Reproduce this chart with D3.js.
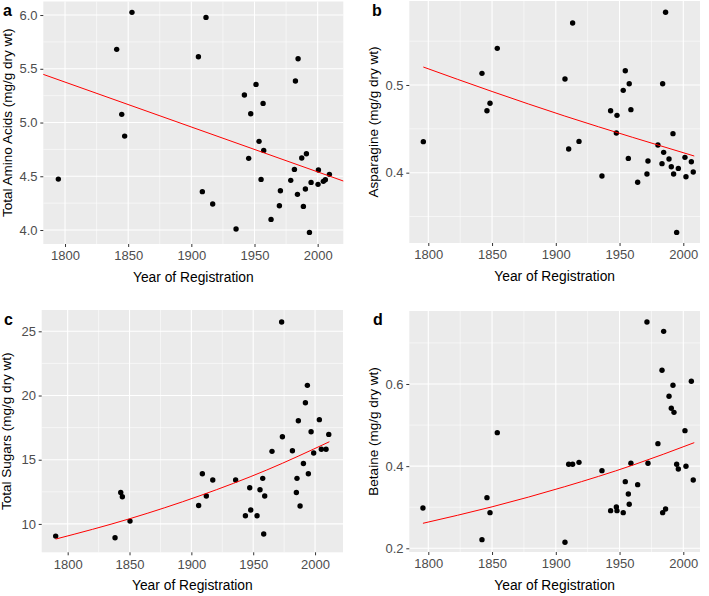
<!DOCTYPE html>
<html>
<head>
<meta charset="utf-8">
<script src="https://cdn.jsdelivr.net/npm/d3@7"></script>
<style>
  body { margin: 0; background: #fff; }
  svg { display: block; font-family: "Liberation Sans", Arial, sans-serif; }
</style>
</head>
<body>
<div id="chart"></div>
<script>
// ---- data ----
var xTicks = [1800, 1850, 1900, 1950, 2000];
var xMinor = [1825, 1875, 1925, 1975];

// a: total amino acids
var yearA = [1794.7, 1853.0, 1840.9, 1844.9, 1847.2, 1905.6, 1911.6, 1908.7, 1916.9, 1935.4,
             1942.0, 1951.2, 1947.0, 1956.8, 1945.4, 1953.6, 1957.3, 1955.2, 1963.1, 1970.5,
             1969.7, 1978.7, 1981.6, 1982.4, 1984.5, 1984.0, 1987.4, 1991.1, 1990.3, 1988.7,
             1993.5, 1994.8, 2000.3, 2000.6, 2004.5, 2006.1, 2009.3];
var aminoA = [4.474, 6.025, 5.681, 5.076, 4.874, 5.612, 5.978, 4.357, 4.242, 4.009,
              5.256, 5.355, 5.082, 5.178, 4.667, 4.825, 4.741, 4.471, 4.099, 4.366,
              4.226, 4.462, 4.564, 5.386, 5.594, 4.332, 4.670, 4.710, 4.381, 4.220,
              3.978, 4.443, 4.425, 4.558, 4.453, 4.468, 4.518];
var trendYearA = [1782.8, 2020.3];
var trendA = [5.448, 4.456];
var yTicksA = [4.0, 4.5, 5.0, 5.5, 6.0];
var yMinorA = [4.25, 4.75, 5.25, 5.75];

// b: asparagine
var yearB = [1796.1, 1842.1, 1846.0, 1848.4, 1854.1, 1907.2, 1913.2, 1910.1, 1918.2, 1936.2,
             1943.0, 1948.0, 1947.5, 1952.9, 1954.5, 1957.6, 1958.9, 1956.9, 1964.2, 1971.5,
             1972.3, 1980.1, 1983.3, 1984.6, 1983.8, 1986.1, 1988.8, 1990.6, 1991.9, 1992.4,
             1994.8, 1996.1, 2001.3, 2002.1, 2006.3, 2007.8];
var asparagineB = [0.4354, 0.5133, 0.4707, 0.4791, 0.5418, 0.5068, 0.5707, 0.4270, 0.4357, 0.3962,
                   0.4707, 0.4654, 0.4452, 0.4939, 0.5163, 0.5015, 0.4719, 0.4163, 0.3890, 0.3985,
                   0.4133, 0.4316, 0.4103, 0.4232, 0.5015, 0.5829, 0.4156, 0.4068, 0.4445, 0.3985,
                   0.3319, 0.4049, 0.4175, 0.3954, 0.4125, 0.4008];
var trendYearB = [1796.1, 1850, 1907, 1960, 2008.6];
var trendB = [0.5205, 0.4926, 0.4646, 0.4404, 0.419];
var yTicksB = [0.4, 0.5];
var yMinorB = [0.35, 0.45, 0.55];

// c: total sugars
var yearC = [1790.3, 1838.3, 1842.9, 1844.2, 1850.4, 1905.9, 1908.9, 1912.1, 1917.3, 1935.8,
             1943.7, 1947.2, 1948.0, 1953.1, 1955.5, 1957.7, 1959.3, 1958.5, 1965.2, 1973.0,
             1973.6, 1981.7, 1984.9, 1985.4, 1986.5, 1987.9, 1990.6, 1992.2, 1993.8, 1994.6,
             1996.8, 1998.9, 2003.5, 2005.1, 2008.9, 2011.1];
var sugarsC = [9.05, 8.92, 12.45, 12.12, 10.22, 11.44, 13.91, 12.17, 13.42, 13.42,
               10.64, 12.82, 11.08, 10.64, 12.66, 13.55, 12.17, 9.21, 15.65, 25.73,
               16.79, 15.70, 12.45, 13.55, 18.04, 11.39, 14.71, 19.44, 20.79, 13.91,
               17.18, 15.52, 18.12, 15.81, 15.81, 16.97];
var trendYearC = [1790.3, 1850, 1907, 1961, 2011.6];
var trendC = [8.82, 10.4, 12.2, 14.2, 16.4];
var yTicksC = [10, 15, 20, 25];
var yMinorC = [12.5, 17.5, 22.5];

// d: betaine
var yearD = [1795.8, 1842.1, 1846.0, 1848.4, 1854.1, 1907.2, 1910.1, 1913.2, 1918.2, 1936.2,
             1943.0, 1947.5, 1948.0, 1952.9, 1954.5, 1956.9, 1957.6, 1958.9, 1964.2, 1971.5,
             1972.3, 1980.1, 1983.3, 1983.8, 1984.6, 1986.1, 1988.8, 1990.6, 1991.9, 1992.7,
             1994.8, 1996.1, 2001.3, 2002.1, 2006.3, 2007.8];
var betaineD = [0.2982, 0.2211, 0.3233, 0.2868, 0.4815, 0.2146, 0.4045, 0.4045, 0.4093, 0.3890,
                0.2917, 0.3006, 0.2917, 0.2868, 0.3623, 0.3323, 0.3071, 0.4069, 0.3550, 0.7509,
                0.4069, 0.4548, 0.6333, 0.2868, 0.7282, 0.2957, 0.5700, 0.5408, 0.5968, 0.5310,
                0.4045, 0.3931, 0.4864, 0.3996, 0.6065, 0.3663];
var trendYearD = [1795.8, 1850, 1907, 1960, 2008.6];
var trendD = [0.2609, 0.301, 0.350, 0.402, 0.4572];
var yTicksD = [0.2, 0.4, 0.6];
var yMinorD = [0.3, 0.5, 0.7];

// ---- layout ----
var W = 709, H = 596;
var svg = d3.select("#chart").append("svg")
    .attr("width", W)
    .attr("height", H);

var panels = [
  { tag: "a", title: "Total Amino Acids (mg/g dry wt)", years: yearA, vals: aminoA,
    tYears: trendYearA, tVals: trendA, yTicks: yTicksA, yMinor: yMinorA, fmt: ".1f",
    left: 43.3, right: 343.3, top: 1.5, bottom: 244,
    xDom: [1782.8, 2020.3], yDom: [3.870, 6.126], tagX: 3, tagY: 16 },
  { tag: "b", title: "Asparagine (mg/g dry wt)", years: yearB, vals: asparagineB,
    tYears: trendYearB, tVals: trendB, yTicks: yTicksB, yMinor: yMinorB, fmt: ".1f",
    left: 409.3, right: 700, top: 1, bottom: 243,
    xDom: [1785.1, 2013.1], yDom: [0.3198, 0.5958], tagX: 372, tagY: 16 },
  { tag: "c", title: "Total Sugars (mg/g dry wt)", years: yearC, vals: sugarsC,
    tYears: trendYearC, tVals: trendC, yTicks: yTicksC, yMinor: yMinorC, fmt: "d",
    left: 41.7, right: 343, top: 310, bottom: 552.3,
    xDom: [1779.0, 2022.6], yDom: [7.79, 26.66], tagX: 4, tagY: 325 },
  { tag: "d", title: "Betaine (mg/g dry wt)", years: yearD, vals: betaineD,
    tYears: trendYearD, tVals: trendD, yTicks: yTicksD, yMinor: yMinorD, fmt: ".1f",
    left: 409.3, right: 700, top: 311, bottom: 552,
    xDom: [1785.1, 2013.1], yDom: [0.191, 0.7777], tagX: 373, tagY: 325 }
];

panels.forEach(drawPanel);

function drawPanel(p) {
  var x = d3.scaleLinear().domain(p.xDom).range([p.left, p.right]);
  var y = d3.scaleLinear().domain(p.yDom).range([p.bottom, p.top]);
  var g = svg.append("g");

  // panel background
  g.append("rect")
      .attr("x", p.left).attr("y", p.top)
      .attr("width", p.right - p.left).attr("height", p.bottom - p.top)
      .attr("fill", "#EBEBEB");

  // minor grid
  g.selectAll(".vminor").data(xMinor).enter().append("line")
      .attr("x1", function(d) { return x(d); }).attr("x2", function(d) { return x(d); })
      .attr("y1", p.top).attr("y2", p.bottom)
      .attr("stroke", "#fff").attr("stroke-width", 0.55);
  g.selectAll(".hminor").data(p.yMinor).enter().append("line")
      .attr("x1", p.left).attr("x2", p.right)
      .attr("y1", function(d) { return y(d); }).attr("y2", function(d) { return y(d); })
      .attr("stroke", "#fff").attr("stroke-width", 0.55);

  // major grid
  g.selectAll(".vmajor").data(xTicks).enter().append("line")
      .attr("x1", function(d) { return x(d); }).attr("x2", function(d) { return x(d); })
      .attr("y1", p.top).attr("y2", p.bottom)
      .attr("stroke", "#fff").attr("stroke-width", 1.1);
  g.selectAll(".hmajor").data(p.yTicks).enter().append("line")
      .attr("x1", p.left).attr("x2", p.right)
      .attr("y1", function(d) { return y(d); }).attr("y2", function(d) { return y(d); })
      .attr("stroke", "#fff").attr("stroke-width", 1.1);

  // axes
  var xAxis = d3.axisBottom(x).tickValues(xTicks).tickSize(3).tickPadding(4)
      .tickFormat(d3.format("d"));
  var yAxis = d3.axisLeft(y).tickValues(p.yTicks).tickSize(3).tickPadding(2.8)
      .tickFormat(d3.format(p.fmt));

  var gx = g.append("g")
      .attr("transform", "translate(0," + p.bottom + ")")
      .call(xAxis);
  var gy = g.append("g")
      .attr("transform", "translate(" + p.left + ",0)")
      .call(yAxis);
  [gx, gy].forEach(function(ax) {
    ax.select(".domain").remove();
    ax.selectAll(".tick line").attr("stroke", "#333333").attr("stroke-width", 1);
    ax.selectAll(".tick text")
        .attr("fill", "#4D4D4D")
        .style("font-size", "13px")
        .style("font-family", "Liberation Sans, Arial, sans-serif");
  });

  // points
  var pts = p.years.map(function(yr, i) { return [yr, p.vals[i]]; });
  g.selectAll(".pt").data(pts).enter().append("circle")
      .attr("cx", function(d) { return x(d[0]); })
      .attr("cy", function(d) { return y(d[1]); })
      .attr("r", 2.7)
      .attr("fill", "#000");

  // fitted trend
  var trend = p.tYears.map(function(yr, i) { return [yr, p.tVals[i]]; });
  var line = d3.line()
      .x(function(d) { return x(d[0]); })
      .y(function(d) { return y(d[1]); })
      .curve(d3.curveMonotoneX);
  g.append("path")
      .attr("d", line(trend))
      .attr("fill", "none")
      .attr("stroke", "#FF0000")
      .attr("stroke-width", 1);

  // titles
  g.append("text")
      .attr("x", (p.left + p.right) / 2)
      .attr("y", p.bottom + 37.5)
      .attr("text-anchor", "middle")
      .style("font-size", "13.8px")
      .attr("fill", "#000")
      .text("Year of Registration");

  g.append("text")
      .attr("transform", "translate(" + (p.left - 31) + "," + ((p.top + p.bottom) / 2) + ") rotate(-90)")
      .attr("text-anchor", "middle")
      .style("font-size", "13.5px")
      .attr("fill", "#000")
      .text(p.title);

  g.append("text")
      .attr("x", p.tagX)
      .attr("y", p.tagY)
      .style("font-size", "16px")
      .style("font-weight", "bold")
      .attr("fill", "#000")
      .text(p.tag);
}
</script>
</body>
</html>
